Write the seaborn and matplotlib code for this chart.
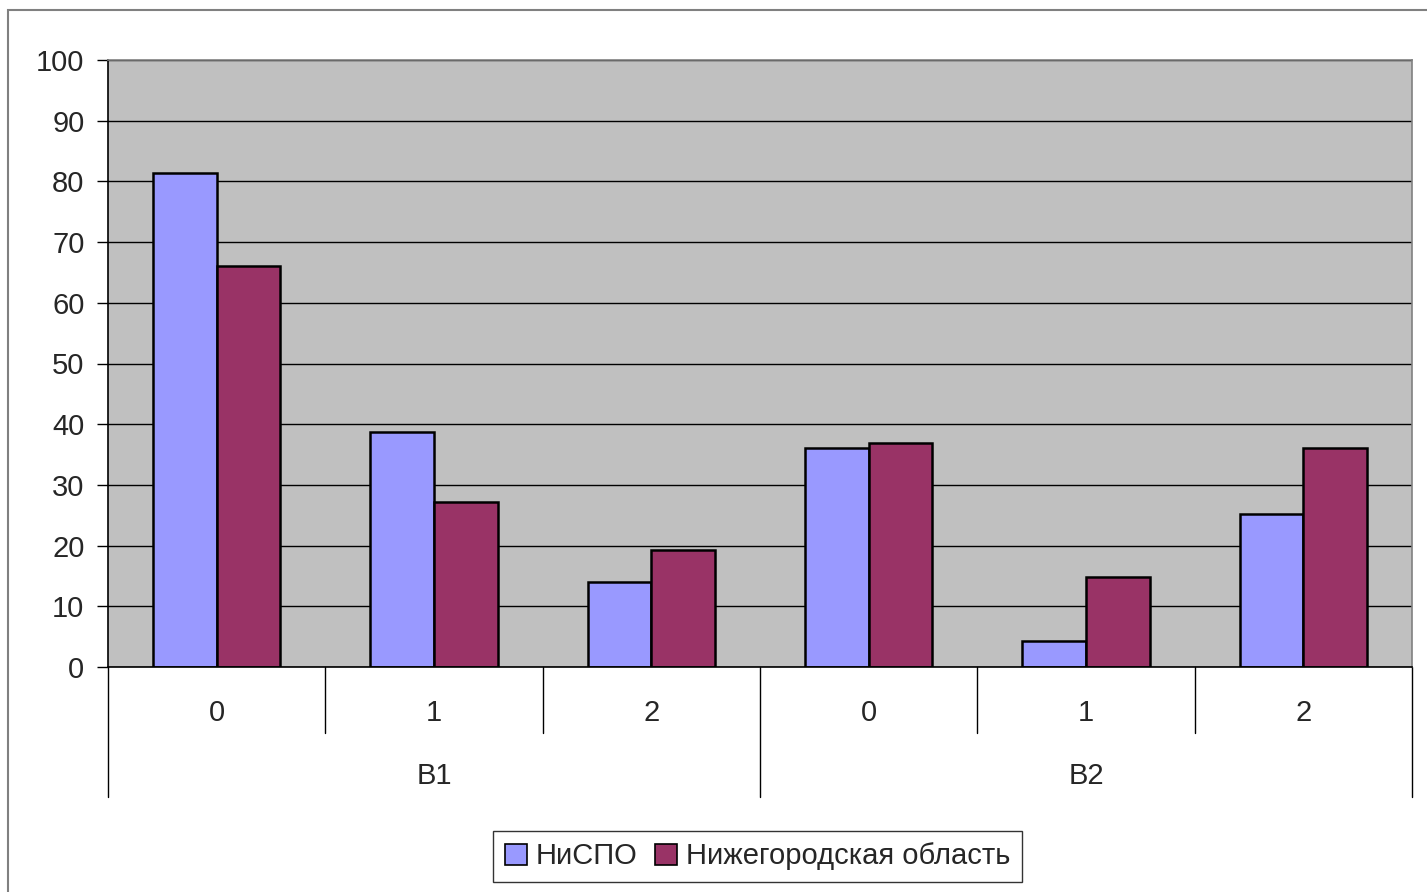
import matplotlib
matplotlib.use("Agg")
import matplotlib.pyplot as plt
import matplotlib.patches as mpatches
import seaborn as sns
import pandas as pd

groups = ["B1", "B1", "B1", "B2", "B2", "B2"]
sub_labels = ["0", "1", "2", "0", "1", "2"]
series_names = ["НиСПО", "Нижегородская область"]
nispo = [81.4, 38.7, 14.0, 36.1, 4.3, 25.2]
nizh = [66.0, 27.2, 19.3, 36.9, 14.8, 36.1]
y_ticks = [0, 10, 20, 30, 40, 50, 60, 70, 80, 90, 100]
colors = ["#9999FF", "#993366"]

cats = [f"{g}-{s}" for g, s in zip(groups, sub_labels)]
df = pd.DataFrame({
    "cat": cats * 2,
    "value": nispo + nizh,
    "series": [series_names[0]] * 6 + [series_names[1]] * 6,
})

sns.set_style("white")
plt.rcParams["font.family"] = ["Liberation Sans", "DejaVu Sans"]
FS = 21

fig = plt.figure(figsize=(14.27, 8.92), dpi=100)
ax = fig.add_axes([108 / 1427, 1 - 667 / 892, (1412 - 108) / 1427, (667 - 60) / 892])
ax.set_facecolor("#C0C0C0")

sns.barplot(data=df, x="cat", y="value", hue="series", order=cats,
            hue_order=series_names, palette=colors, width=0.585, gap=0,
            edgecolor="black", linewidth=1.8, saturation=1, ax=ax, legend=True)

ax.set_ylim(0, 100)
ax.set_xlim(-0.5, 5.5)
ax.set_yticks(y_ticks)
ax.set_yticklabels([str(t) for t in y_ticks], fontsize=FS)
ax.yaxis.grid(True, color="black", linewidth=1.0)
ax.set_axisbelow(True)
ax.tick_params(axis="y", direction="out", length=8, width=1, color="black", left=True, pad=9)
ax.tick_params(axis="x", bottom=False, labelbottom=False)
ax.set_xlabel("")
ax.set_ylabel("")
for s in ["left", "bottom"]:
    ax.spines[s].set_color("black")
    ax.spines[s].set_linewidth(1.2)
for s in ["top", "right"]:
    ax.spines[s].set_color("#808080")
    ax.spines[s].set_linewidth(1.2)

# two-level category axis
trans = ax.get_xaxis_transform()
h = 667 - 60
y_sub_end = -(733 - 667) / h
y_grp_end = -(797 - 667) / h
y_sub_lbl = -(713 - 667) / h
y_grp_lbl = -(776 - 667) / h
for i in range(len(cats) + 1):
    x = i - 0.5
    end = y_grp_end if i in (0, 3, 6) else y_sub_end
    ax.plot([x, x], [0, end], transform=trans, color="black", linewidth=1, clip_on=False)
for i, s in enumerate(sub_labels):
    ax.text(i, y_sub_lbl, s, transform=trans, ha="center", va="center", fontsize=FS)
ax.text(1, y_grp_lbl, "B1", transform=trans, ha="center", va="center", fontsize=FS)
ax.text(4, y_grp_lbl, "B2", transform=trans, ha="center", va="center", fontsize=FS)

# legend
handles = [mpatches.Rectangle((0, 0), 1, 1, facecolor=c, edgecolor="black", linewidth=1.2) for c in colors]
leg = ax.legend(handles, series_names, loc="center", ncol=2,
                bbox_to_anchor=(757.5 / 1427, 1 - 856.5 / 892), bbox_transform=fig.transFigure,
                fontsize=FS, frameon=True, fancybox=False, edgecolor="black",
                handlelength=0.75, handleheight=0.75, handletextpad=0.3, columnspacing=0.6,
                borderpad=0.4)
leg.get_frame().set_linewidth(1.0)

# outer chart border
fig.patches.append(mpatches.Rectangle((8 / 1427, -0.05), 1.2, 1 - 10 / 892 + 0.05,
                                      transform=fig.transFigure, fill=False,
                                      edgecolor="#808080", linewidth=1.5))

fig.savefig("out.png", dpi=100)
